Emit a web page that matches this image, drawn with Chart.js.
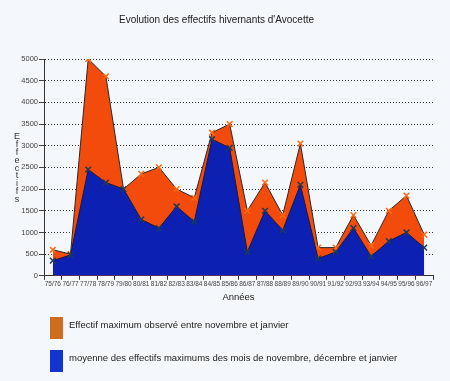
<!DOCTYPE html>
<html><head><meta charset="utf-8">
<script src="https://cdn.jsdelivr.net/npm/chart.js@4"></script>
<style>html,body{margin:0;padding:0;background:#f4f7fb;}#c{display:block;}</style>
</head><body>
<canvas id="c" width="450" height="381"></canvas>
<script>
const categories = ["75/76","76/77","77/78","78/79","79/80","80/81","81/82","82/83","83/84","84/85","85/86","86/87","87/88","88/89","89/90","90/91","91/92","92/93","93/94","94/95","95/96","96/97"];
const maxValues = [600,500,5000,4600,2000,2350,2500,2000,1800,3300,3500,1500,2150,1400,3050,650,650,1400,700,1500,1850,950];
const meanValues = [350,480,2450,2150,2000,1300,1100,1600,1250,3150,2950,550,1500,1050,2100,400,550,1100,450,800,1000,650];
const seriesLabels = ["Effectif maximum observé entre novembre et janvier","moyenne des effectifs maximums des mois de novembre, décembre et janvier"];
const titleText = "Evolution des effectifs hivernants d'Avocette";
const yTitle = "Effectifs";
const xTitle = "Années";
const yTicks = [0,500,1000,1500,2000,2500,3000,3500,4000,4500,5000];

const FONT = "'Liberation Sans', Arial, sans-serif";
const legendColors = ["#cf6d1e","#1434cf"];

const extras = {
  id: 'extras',
  afterDraw(chart) {
    const ctx = chart.ctx;
    ctx.save();
    ctx.fillStyle = '#333';
    ctx.font = "9px " + FONT;
    ctx.textAlign = 'center';
    ctx.textBaseline = 'middle';
    yTitle.split('').forEach((ch, i) => ctx.fillText(ch, 17, 137 + i * 7.8));
    ctx.textAlign = 'left';
    ctx.font = "9.5px " + FONT;
    const ys = [317, 350];
    seriesLabels.forEach((lab, i) => {
      ctx.fillStyle = legendColors[i];
      ctx.fillRect(50, ys[i], 13, 22);
      ctx.fillStyle = '#222';
      ctx.fillText(lab, 69, ys[i] + 8);
    });
    ctx.restore();
  }
};

new Chart(document.getElementById('c'), {
  type: 'line',
  data: {
    labels: categories,
    datasets: [
      {
        label: seriesLabels[0],
        data: maxValues,
        fill: 'origin',
        backgroundColor: '#f24b0c',
        borderColor: '#2a2a2a',
        borderWidth: 1,
        tension: 0,
        pointStyle: 'crossRot',
        pointRadius: 4,
        pointBorderColor: '#ff6a10',
        pointBorderWidth: 1.5,
        order: 2
      },
      {
        label: seriesLabels[1],
        data: meanValues,
        fill: 'origin',
        backgroundColor: '#0c20b2',
        borderColor: '#1a1a3a',
        borderWidth: 1,
        tension: 0,
        pointStyle: 'crossRot',
        pointRadius: 4,
        pointBorderColor: '#1d3a5a',
        pointBorderWidth: 1.5,
        order: 1
      }
    ]
  },
  options: {
    responsive: false,
    animation: false,
    devicePixelRatio: 1,
    layout: { padding: { left: 0, right: 17, top: 0, bottom: 78 } },
    plugins: {
      legend: { display: false },
      tooltip: { enabled: false },
      title: {
        display: true,
        text: titleText,
        color: '#222',
        font: { family: FONT, size: 10, weight: 'normal' },
        padding: { top: 14, bottom: 33 }
      }
    },
    scales: {
      x: {
        offset: true,
        grid: { display: true, drawOnChartArea: false, offset: true, tickLength: 4, color: '#333' },
        border: { color: '#333', width: 1 },
        ticks: { autoSkip: false, maxRotation: 0, minRotation: 0, color: '#444', padding: 1, font: { family: FONT, size: 6.5 } },
        title: { display: true, text: xTitle, color: '#222', padding: { top: 2, bottom: 0 }, font: { family: FONT, size: 9.5 } }
      },
      y: {
        min: 0, max: 5000,
        afterFit(scale) { scale.width = 44; },
        afterBuildTicks(scale) { scale.ticks = yTicks.map(v => ({ value: v })); },
        grid: { display: true, color: '#333', tickLength: 5, tickColor: '#444', drawTicks: true, tickBorderDash: [] },
        border: { color: '#333', width: 1, dash: [1, 2] },
        ticks: { color: '#444', padding: 1, font: { family: FONT, size: 7.5 }, callback: (v) => String(v) }
      }
    }
  },
  plugins: [extras]
});
</script>
</body></html>
